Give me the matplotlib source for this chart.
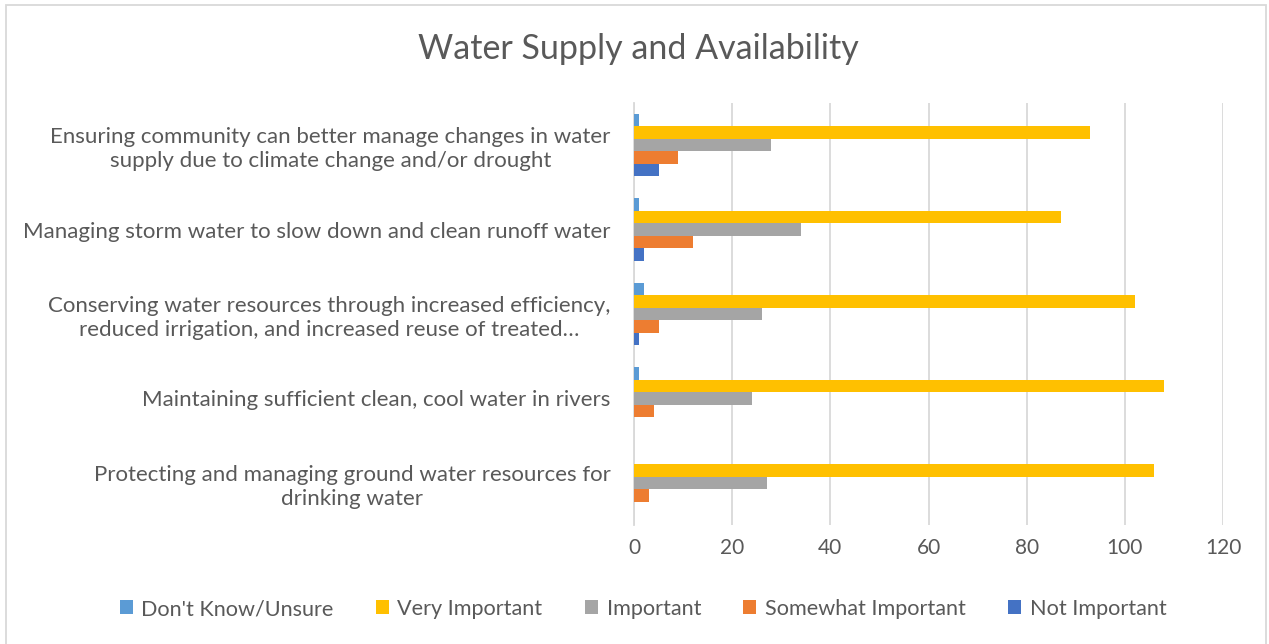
import numpy as np
import matplotlib
matplotlib.use("Agg")
import matplotlib.pyplot as plt
from matplotlib.patches import Rectangle

# categories listed bottom to top (as drawn)
categories = [
    "Protecting and managing ground water resources for\ndrinking water",
    "Maintaining sufficient clean, cool water in rivers",
    "Conserving water resources through increased efficiency,\nreduced irrigation, and increased reuse of treated\u2026",
    "Managing storm water to slow down and clean runoff water",
    "Ensuring community can better manage changes in water\nsupply due to climate change and/or drought",
]
series_names = ["Don't Know/Unsure", "Very Important", "Important",
                "Somewhat Important", "Not Important"]
dont_know = [0, 1, 2, 1, 1]
very_important = [106, 108, 102, 87, 93]
important = [27, 24, 26, 34, 28]
somewhat_important = [3, 4, 5, 12, 9]
not_important = [0, 0, 1, 2, 5]
colors = ["#5B9BD5", "#FFC000", "#A5A5A5", "#ED7D31", "#4472C4"]
xticks = [0, 20, 40, 60, 80, 100, 120]

plt.rcParams['font.family'] = ['Lato', 'DejaVu Sans']
text_col = "#595959"

fig = plt.figure(figsize=(12.69, 6.44), dpi=100)
ax = fig.add_axes([634 / 1269, 1 - 525 / 644, (1223 - 634) / 1269, (525 - 103) / 644])

all_series = [dont_know, very_important, important, somewhat_important, not_important]
h = 0.148
y = np.arange(len(categories))
for j, (vals, name, c) in enumerate(zip(all_series, series_names, colors)):
    ax.barh(y + (2 - j) * h, vals, height=h, color=c, label=name, zorder=3)

ax.set_xlim(0, 120)
ax.set_ylim(-0.5, len(categories) - 0.5)
ax.set_xticks(xticks)
ax.set_yticks(y)
ax.set_yticklabels(categories)
for lab in ax.get_yticklabels():
    lab.set_multialignment('center')
    lab.set_linespacing(1.25)
ax.tick_params(axis='y', length=0, pad=17, labelsize=16, labelcolor=text_col)
ax.tick_params(axis='x', length=0, pad=9, labelsize=15, labelcolor=text_col)
ax.grid(axis='x', color='#D9D9D9', linewidth=1.3, zorder=0)
for s in ['top', 'right', 'bottom']:
    ax.spines[s].set_visible(False)
ax.spines['left'].set_color('#D9D9D9')
ax.spines['left'].set_linewidth(1.3)

fig.text(638 / 1269, 1 - 49 / 644, "Water Supply and Availability", ha='center', va='center',
         fontsize=24.5, color=text_col)

fig.legend(loc='center', bbox_to_anchor=(643 / 1269, 1 - 609 / 644), ncol=5, frameon=False,
           fontsize=15.6, labelcolor=text_col, handlelength=0.6, handleheight=0.6,
           handletextpad=0.4, columnspacing=1.95)

# chart border
fig.patches.append(Rectangle((6 / 1269, -0.02), 1260 / 1269, 1.0 - 5 / 644 + 0.02,
                             transform=fig.transFigure, fill=False,
                             edgecolor='#D9D9D9', linewidth=1.3))

fig.savefig("out.png", dpi=100)
